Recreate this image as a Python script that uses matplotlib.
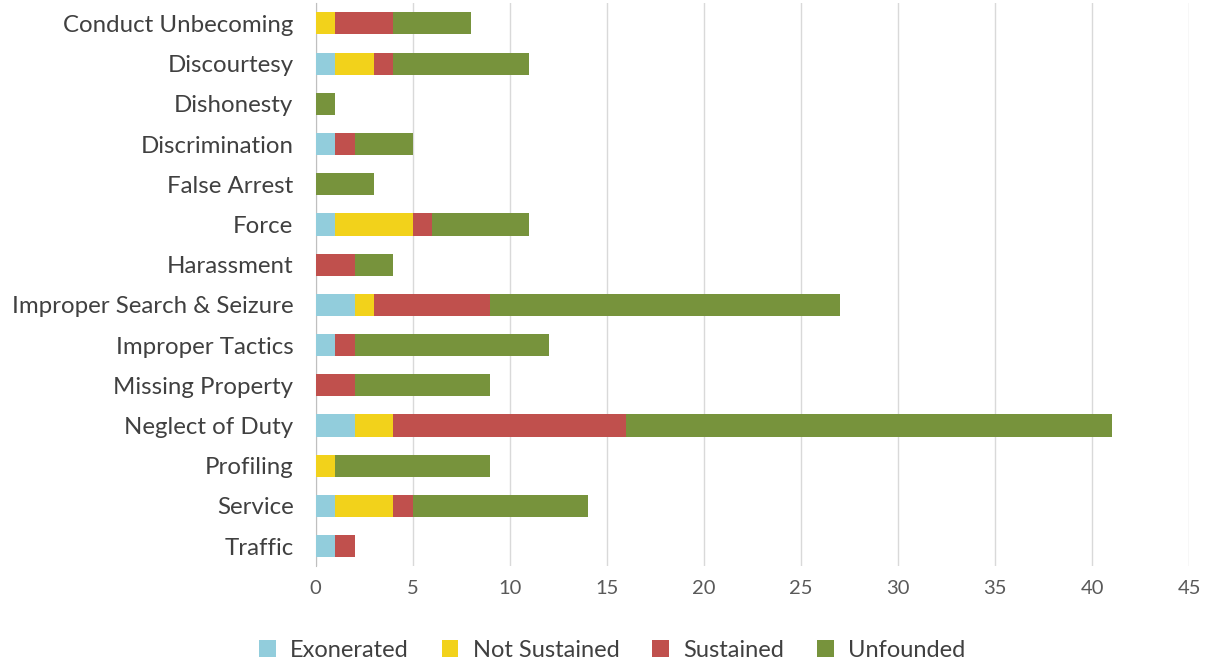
import matplotlib.pyplot as plt
import numpy as np

plt.rcParams['font.family'] = ['Lato', 'DejaVu Sans']

categories = ["Conduct Unbecoming", "Discourtesy", "Dishonesty", "Discrimination",
              "False Arrest", "Force", "Harassment", "Improper Search & Seizure",
              "Improper Tactics", "Missing Property", "Neglect of Duty", "Profiling",
              "Service", "Traffic"]
exonerated = [0, 1, 0, 1, 0, 1, 0, 2, 1, 0, 2, 0, 1, 1]
not_sustained = [1, 2, 0, 0, 0, 4, 0, 1, 0, 0, 2, 1, 3, 0]
sustained = [3, 1, 0, 1, 0, 1, 2, 6, 1, 2, 12, 0, 1, 1]
unfounded = [4, 7, 1, 3, 3, 5, 2, 18, 10, 7, 25, 8, 9, 0]

series = [("Exonerated", exonerated, "#92CDDC"),
          ("Not Sustained", not_sustained, "#F2D21B"),
          ("Sustained", sustained, "#C0504D"),
          ("Unfounded", unfounded, "#77933C")]

fig = plt.figure(figsize=(12.05, 6.67), dpi=100)
ax = fig.add_axes([0.262, 0.151, 0.725, 0.844])

y = np.arange(len(categories))
left = np.zeros(len(categories))
for name, vals, color in series:
    vals = np.array(vals)
    ax.barh(y, vals, left=left, height=0.55, color=color, label=name, zorder=3)
    left += vals

ax.set_yticks(y)
ax.set_yticklabels(categories, fontsize=17.3, color="#404040")
ax.set_ylim(len(categories) - 0.5, -0.5)
ax.set_xlim(0, 45)
ax.set_xticks(range(0, 46, 5))
ax.tick_params(axis='x', labelsize=14.5, colors="#595959", length=0, pad=10)
ax.tick_params(axis='y', length=0, pad=16)
ax.grid(axis='x', color="#D9D9D9", linewidth=1, zorder=0)
for s in ["top", "right", "bottom"]:
    ax.spines[s].set_visible(False)
ax.spines["left"].set_color("#BFBFBF")

fig.legend(loc="center", bbox_to_anchor=(0.508, 0.025), ncol=4, frameon=False,
           fontsize=17, handlelength=0.7, handleheight=0.7, columnspacing=1.4,
           handletextpad=0.6, labelcolor="#404040")

fig.savefig("out.png", dpi=100)
